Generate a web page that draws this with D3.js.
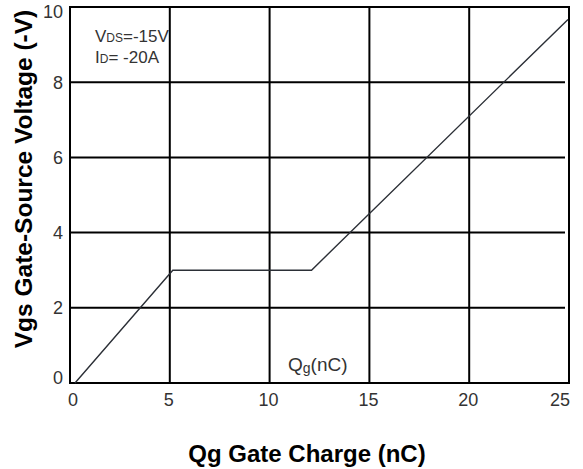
<!DOCTYPE html>
<meta charset="utf-8">
<style>
	body { margin: 0; background: #fff; }
	svg { font-family: "Liberation Sans", Arial, sans-serif; }
	.tick-label { font-size: 18px; fill: #333; }
	.title { font-size: 24px; font-weight: bold; fill: #000; }
	.note { fill: #333; }
</style>
<svg></svg>
<script src="https://cdn.jsdelivr.net/npm/d3@7"></script>
<script>
	// curve: gate charge (nC) vs gate-source voltage (-V)
	var qg = [0.25, 5.15, 12.1, 24.95];
	var vgs = [0, 3.0, 3.0, 9.67];
	var xTicks = [0, 5, 10, 15, 20, 25];
	var yTicks = [0, 2, 4, 6, 8, 10];

	var W = 583, H = 469;
	var plot = { left: 70, right: 569, top: 7, bottom: 383 };

	var svg = d3.select("svg").attr("width", W).attr("height", H);

	var x = d3.scaleLinear().domain([0, 25]).range([plot.left, plot.right]);
	var y = d3.scaleLinear().domain([0, 10]).range([plot.bottom, plot.top]);

	// grid
	var grid = svg.append("g").attr("stroke", "#000").attr("stroke-width", 2);
	grid.selectAll(".vg").data(xTicks.slice(1, -1)).enter().append("line")
		.attr("x1", function (d){ return x(d) }).attr("x2", function (d){ return x(d) })
		.attr("y1", plot.top).attr("y2", plot.bottom);
	grid.selectAll(".hg").data(yTicks.slice(1, -1)).enter().append("line")
		.attr("x1", plot.left).attr("x2", plot.right - 4)
		.attr("y1", function (d){ return y(d) }).attr("y2", function (d){ return y(d) });
	grid.append("rect")
		.attr("x", plot.left).attr("y", plot.top)
		.attr("width", plot.right - plot.left).attr("height", plot.bottom - plot.top)
		.attr("fill", "none");

	// tick labels
	svg.selectAll(".yl").data(yTicks).enter().append("text")
		.attr("class", "tick-label")
		.attr("x", 63)
		.attr("y", function (d){ return Math.max(12, Math.min(378, y(d))) })
		.attr("dy", "0.36em")
		.attr("text-anchor", "end")
		.text(function (d){ return d });
	svg.selectAll(".xl").data(xTicks).enter().append("text")
		.attr("class", "tick-label")
		.attr("x", function (d){ return Math.max(73, Math.min(560, x(d) - 1)) })
		.attr("y", 406)
		.attr("text-anchor", "middle")
		.text(function (d){ return d });

	// curve
	var line = d3.line().x(function (d){ return x(d[0]) }).y(function (d){ return y(d[1]) });
	svg.append("path")
		.datum(d3.zip(qg, vgs))
		.attr("d", line)
		.attr("fill", "none")
		.attr("stroke", "#2b2f36")
		.attr("stroke-width", 1.4);

	// axis titles
	svg.append("text").attr("class", "title")
		.attr("x", 307).attr("y", 462)
		.attr("text-anchor", "middle")
		.text("Qg Gate Charge (nC)");
	svg.append("text").attr("class", "title")
		.attr("transform", "translate(32,179) rotate(-90)")
		.attr("text-anchor", "middle")
		.style("font-size", "24.5px")
		.text("Vgs Gate-Source Voltage (-V)");

	// annotations
	var n1 = svg.append("text").attr("class", "note").attr("x", 95).attr("y", 42).style("font-size", "17px");
	n1.append("tspan").text("V");
	n1.append("tspan").style("font-size", "12px").text("DS");
	n1.append("tspan").text("=-15V");
	var n2 = svg.append("text").attr("class", "note").attr("x", 95).attr("y", 63).style("font-size", "17px");
	n2.append("tspan").text("I");
	n2.append("tspan").style("font-size", "12px").text("D");
	n2.append("tspan").text("= -20A");
	var n3 = svg.append("text").attr("class", "note").attr("x", 288).attr("y", 371).style("font-size", "19px");
	n3.append("tspan").text("Q");
	n3.append("tspan").style("font-size", "14px").attr("dy", 2).text("g");
	n3.append("tspan").attr("dy", -2).text("(nC)");
</script>
